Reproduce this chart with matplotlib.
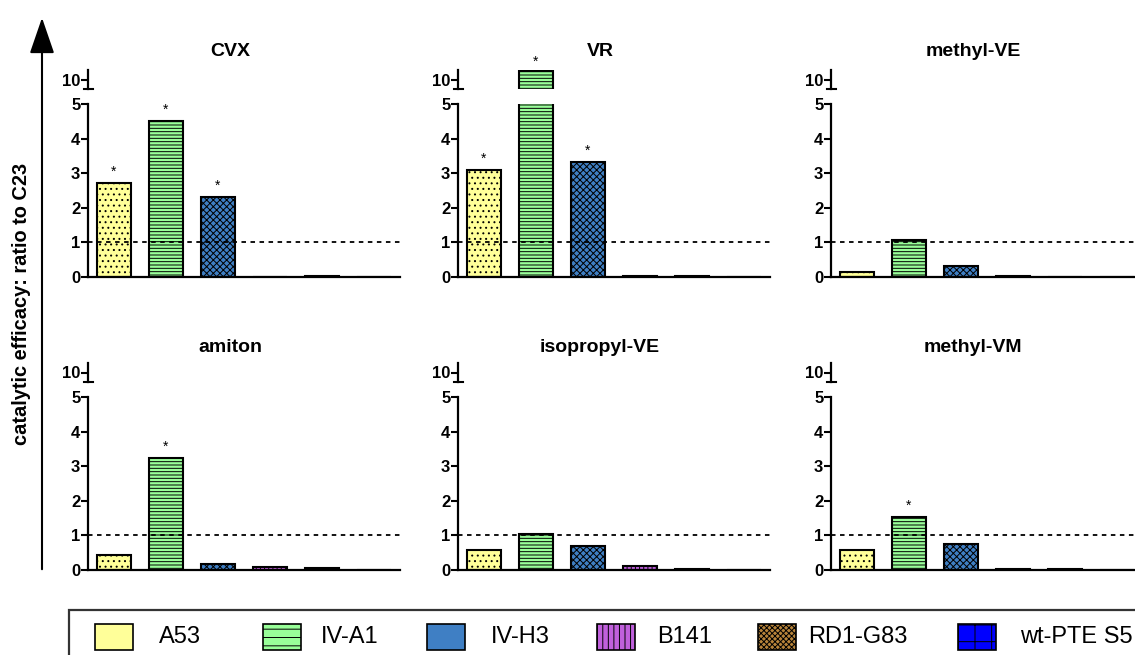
import matplotlib
matplotlib.use("Agg")
import matplotlib.pyplot as plt
from matplotlib.patches import Rectangle, FancyArrowPatch
from matplotlib.lines import Line2D

# ---------------- data ----------------
enzymes = ["A53", "IV-A1", "IV-H3", "B141", "RD1-G83", "wt-PTE S5"]
panel_titles = ["CVX", "VR", "methyl-VE", "amiton", "isopropyl-VE", "methyl-VM"]
cvx = [2.73, 4.52, 2.32, 0.01, 0.02, 0.0]
vr = [3.09, 10.9, 3.32, 0.04, 0.02, 0.0]
methyl_ve = [0.15, 1.07, 0.33, 0.02, 0.0, 0.0]
amiton = [0.43, 3.24, 0.18, 0.09, 0.05, 0.0]
isopropyl_ve = [0.59, 1.04, 0.68, 0.11, 0.02, 0.0]
methyl_vm = [0.59, 1.54, 0.75, 0.02, 0.02, 0.0]
sig_cvx = [True, True, True, False, False, False]
sig_vr = [True, True, True, False, False, False]
sig_methyl_ve = [False] * 6
sig_amiton = [False, True, False, False, False, False]
sig_isopropyl_ve = [False] * 6
sig_methyl_vm = [False, True, False, False, False, False]
lower_ticks = [0, 1, 2, 3, 4, 5]
upper_ticks = [10]
reference_level = 1
y_label = "catalytic efficacy: ratio to C23"

panel_values = [cvx, vr, methyl_ve, amiton, isopropyl_ve, methyl_vm]
panel_sig = [sig_cvx, sig_vr, sig_methyl_ve, sig_amiton, sig_isopropyl_ve, sig_methyl_vm]

# ---------------- style ----------------
colors = ["#FFFF99", "#99FF99", "#3F7FC4", "#C060DC", "#B8843A", "#0000FF"]
hatches = ["...", "-----", "xxxxx", "||||", "xxxxxx", "++"]
legend_hatches = [None, "--", None, "|||", "xxxxxx", "+"]

plt.rcParams["font.family"] = ["Liberation Sans", "DejaVu Sans"]
plt.rcParams["hatch.linewidth"] = 0.7

W, H = 1135, 655
fig = plt.figure(figsize=(W / 100, H / 100), dpi=100)


def fx(px):
    return px / W


def fy(py):
    return 1 - py / H


col_left = [88, 458, 831]
ax_w = 312
rows = [(104, 277, 70, 89, 52), (397, 570, 363, 382, 347)]

for i, (title, vals, sig) in enumerate(zip(panel_titles, panel_values, panel_sig)):
    r, c = divmod(i, 3)
    top5, y0, utop, ubot, ty = rows[r]
    L = col_left[c]
    ax = fig.add_axes([fx(L), fy(y0), fx(ax_w), (y0 - top5) / H])
    axu = fig.add_axes([fx(L), fy(ubot), fx(ax_w), (ubot - utop) / H])
    x = list(range(len(enzymes)))
    for a in (ax, axu):
        a.bar(x, vals, width=0.67, color=colors, edgecolor="black",
              linewidth=1.5)
        for bar, h in zip(a.patches, hatches):
            bar.set_hatch(h)
        a.set_xlim(-0.5, 5.5)
        a.spines["top"].set_visible(False)
        a.spines["right"].set_visible(False)
        a.spines["left"].set_linewidth(1.6)
        a.set_xticks([])
        a.tick_params(axis="y", direction="out", length=5, width=1.5,
                      labelsize=12, pad=0.5)
    ax.set_ylim(0, 5)
    ax.set_yticks(lower_ticks)
    ax.set_yticklabels([str(t) for t in lower_ticks], fontweight="bold")
    ax.spines["bottom"].set_linewidth(1.6)
    ax.axhline(reference_level, color="black", linestyle=(0, (2.5, 2.5)),
               linewidth=1.3, zorder=3)
    axu.set_ylim(9, 11)
    axu.set_yticks(upper_ticks)
    axu.set_yticklabels([str(t) for t in upper_ticks], fontweight="bold")
    axu.spines["bottom"].set_visible(False)
    axu.patch.set_alpha(0)
    # break mark at the bottom of the upper segment
    axu.add_line(Line2D([-0.014, 0.016], [0, 0], transform=axu.transAxes,
                        color="black", linewidth=1.5, clip_on=False))
    # significance stars
    for xi, (v, s) in enumerate(zip(vals, sig)):
        if not s:
            continue
        if v > 5:
            axu.annotate("*", (xi, min(v, 11)), xytext=(0, 9),
                         textcoords="offset pixels", ha="center", va="center",
                         fontsize=10, annotation_clip=False)
        else:
            ax.annotate("*", (xi, v), xytext=(0, 11),
                        textcoords="offset pixels", ha="center", va="center",
                        fontsize=10, annotation_clip=False)
    fig.text(fx(L + 142), fy(ty), title, ha="center", va="center",
             fontsize=14, fontweight="bold")

# y label and big arrow
fig.text(fx(22), fy(304), y_label, rotation=90, ha="center", va="center",
         fontsize=14.4, fontweight="bold")
fig.patches.append(
    FancyArrowPatch(
        (fx(42), fy(572)), (fx(42), fy(15)), transform=fig.transFigure,
        arrowstyle="-|>,head_length=1.6,head_width=0.55", mutation_scale=14,
        color="black", linewidth=1.5)
)

# legend box
fig.patches.append(Rectangle((fx(69), fy(700)), fx(1200), (700 - 610) / H,
                             transform=fig.transFigure, fill=False,
                             edgecolor="#333333", linewidth=1.6))
patch_x = [95, 263, 427, 597, 758, 958]
text_x = [159, 321, 491, 657, 808, 1020]
for name, col, hz, px, tx in zip(enzymes, colors, legend_hatches, patch_x, text_x):
    fig.patches.append(Rectangle((fx(px), fy(650)), fx(38), (650 - 624) / H,
                                 transform=fig.transFigure, facecolor=col,
                                 edgecolor="black", linewidth=1.2, hatch=hz))
    fig.text(fx(tx), fy(637), name, ha="left", va="center", fontsize=17)

fig.savefig("out.png", dpi=100)
